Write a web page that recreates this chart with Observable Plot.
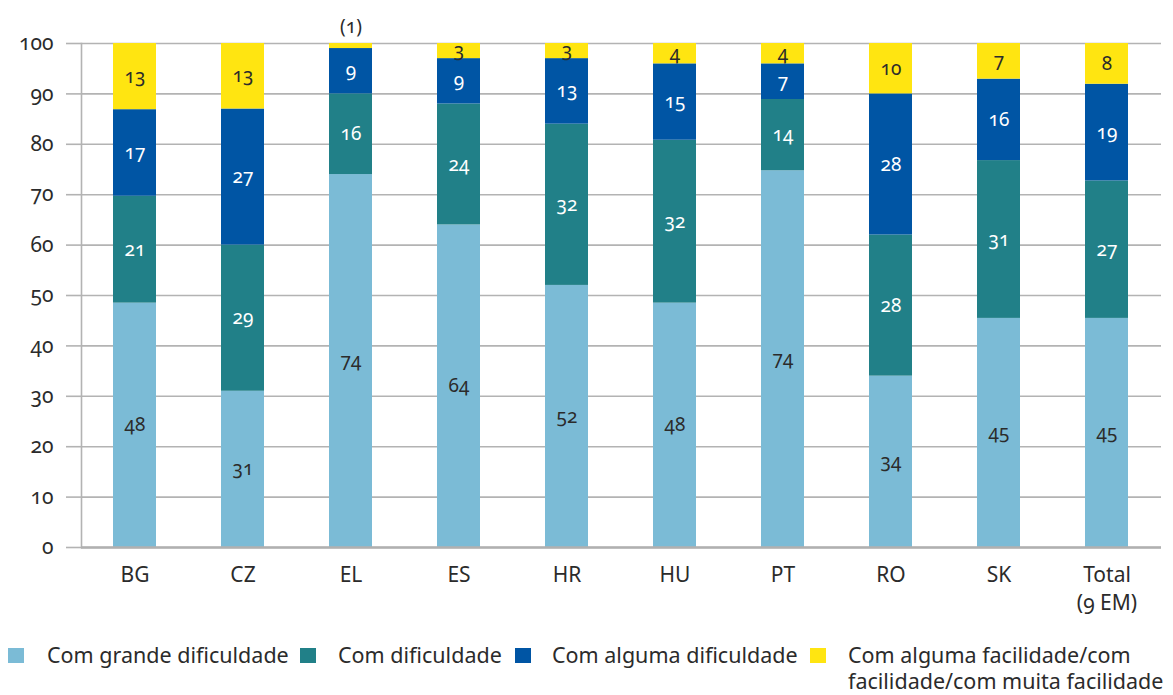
<!DOCTYPE html>
<html>
<head>
<meta charset="utf-8">
<script src="https://cdn.jsdelivr.net/npm/d3@7"></script>
<script src="https://cdn.jsdelivr.net/npm/@observablehq/plot@0.6"></script>
<style>
  body { margin: 0; background: #fff; font-family: "Noto Sans", sans-serif; }
  #chart { position: relative; width: 1173px; height: 695px; }
  #chart svg text { font-feature-settings: "onum" 1; }
  .sw { position: absolute; width: 16px; height: 15px; }
  .lt { position: absolute; font-size: 21.5px; line-height: 24px; color: #2b2b2b; white-space: nowrap; font-feature-settings: "onum" 1; }
</style>
</head>
<body>
<div id="chart"></div>
<script>
const countries = ["BG", "CZ", "EL", "ES", "HR", "HU", "PT", "RO", "SK", "Total"];
const xTickLabels = ["BG", "CZ", "EL", "ES", "HR", "HU", "PT", "RO", "SK", "Total\n(9 EM)"];
const seriesNames = [
  "Com grande dificuldade",
  "Com dificuldade",
  "Com alguma dificuldade",
  "Com alguma facilidade/com facilidade/com muita facilidade"
];
const grandeDificuldade = [48, 31, 74, 64, 52, 48, 74, 34, 45, 45];
const comDificuldade    = [21, 29, 16, 24, 32, 32, 14, 28, 31, 27];
const algumaDificuldade = [17, 27,  9,  9, 13, 15,  7, 28, 16, 19];
const facilidade        = [13, 13,  1,  3,  3,  4,  4, 10,  7,  8];
const yTicks = [0, 10, 20, 30, 40, 50, 60, 70, 80, 90, 100];
const seriesColors = ["#7bbbd6", "#218088", "#0055a4", "#ffe511"];
const labelColors = ["#2b2b2b", "#ffffff", "#ffffff", "#2b2b2b"];
const legendLines = [
  ["Com grande dificuldade"],
  ["Com dificuldade"],
  ["Com alguma dificuldade"],
  ["Com alguma facilidade/com", "facilidade/com muita facilidade"]
];

const seriesValues = [grandeDificuldade, comDificuldade, algumaDificuldade, facilidade];
const data = [];
seriesNames.forEach((s, si) => {
  countries.forEach((c, ci) => {
    data.push({country: c, series: s, si, value: seriesValues[si][ci]});
  });
});

const labelOf = new Map(countries.map((c, i) => [c, xTickLabels[i]]));

const chart = Plot.plot({
  width: 1173,
  height: 625,
  marginTop: 43,
  marginBottom: 78,
  marginLeft: 81,
  marginRight: 12,
  style: {fontFamily: "'Noto Sans', sans-serif", background: "#fff"},
  x: {domain: countries, paddingInner: 0.6, paddingOuter: 0.3, axis: null, label: null},
  y: {domain: [0, 1], axis: null, label: null},
  color: {domain: seriesNames, range: seriesColors},
  marks: [
    Plot.gridY(yTicks.map(v => v / 100), {stroke: "#b3b3b3", strokeOpacity: 1, strokeWidth: 1.6}),
    Plot.axisY(yTicks.map(v => v / 100), {
      label: null,
      tickSize: 15, tickPadding: 13, stroke: "#b3b3b3", strokeWidth: 1.6, fill: "#2b2b2b",
      fontSize: 21, tickFormat: d => String(Math.round(d * 100))
    }),
    Plot.frame({anchor: "left", stroke: "#b3b3b3", strokeWidth: 1.6}),
    Plot.barY(data, Plot.stackY({x: "country", y: "value", fill: "series", offset: "normalize"})),
    Plot.ruleY([0], {stroke: "#b0b0b0", strokeWidth: 2.6}),
    Plot.text(data, Plot.stackY({
      x: "country", y: "value", z: "series", offset: "normalize",
      text: d => d.value < 2 ? "" : String(d.value),
      fill: d => labelColors[d.si],
      fontSize: 19
    })),
    Plot.text(data, Plot.stackY2({
      x: "country", y: "value", z: "series", offset: "normalize",
      text: d => d.value < 2 ? `(${d.value})` : "",
      fill: "#2b2b2b", fontSize: 19, dy: -17
    })),
    Plot.axisX({
      label: null,
      tickSize: 0, tickPadding: 14, fontSize: 21, fill: "#2b2b2b", lineHeight: 1.35,
      tickFormat: c => labelOf.get(c)
    })
  ]
});

const root = document.getElementById("chart");
root.appendChild(chart);

const legendPos = [
  {sq: 8, tx: 47},
  {sq: 300, tx: 338},
  {sq: 515, tx: 552},
  {sq: 810, tx: 848}
];
seriesNames.forEach((s, i) => {
  const sq = document.createElement("div");
  sq.className = "sw";
  sq.style.left = legendPos[i].sq + "px";
  sq.style.top = "648px";
  sq.style.background = seriesColors[i];
  root.appendChild(sq);
  legendLines[i].forEach((line, li) => {
    const t = document.createElement("div");
    t.className = "lt";
    t.style.left = legendPos[i].tx + "px";
    t.style.top = (643 + li * 26) + "px";
    t.textContent = line;
    root.appendChild(t);
  });
});
</script>
</body>
</html>
